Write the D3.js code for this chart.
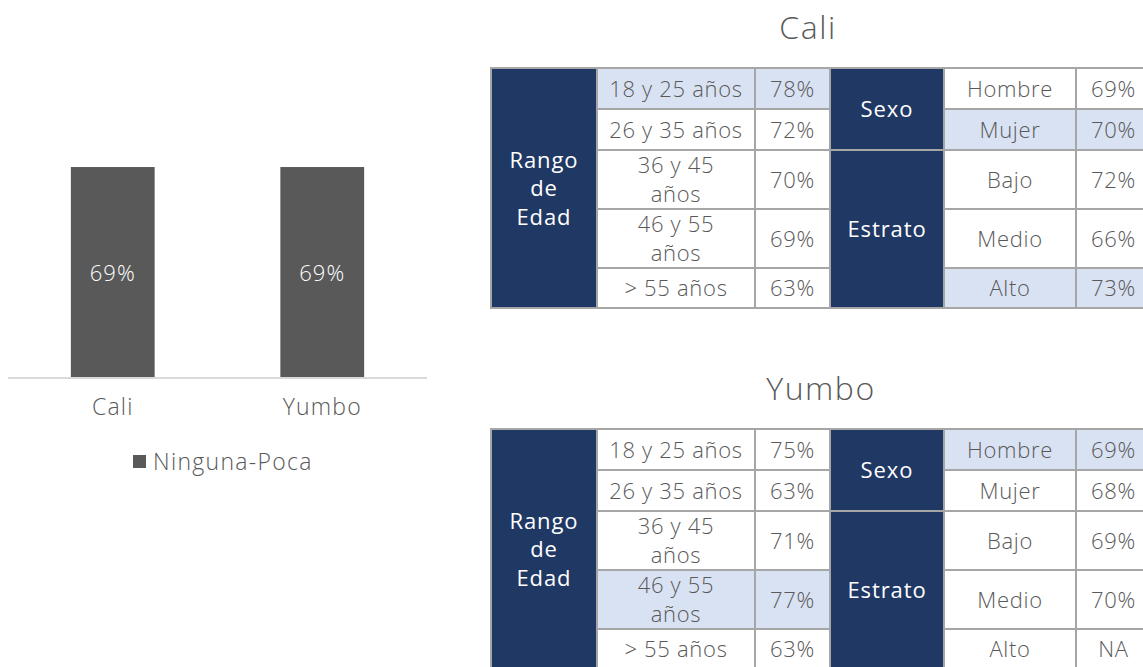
<!DOCTYPE html>
<html>
<head>
<meta charset="utf-8">
<script src="https://cdn.jsdelivr.net/npm/d3@7"></script>
<style>
  html, body { margin: 0; padding: 0; background: #ffffff; }
  svg { display: block; font-family: "Open Sans", Lato, sans-serif; font-weight: 300; letter-spacing: 0.7px; }
</style>
</head>
<body>
<svg id="chart" width="1143" height="667"></svg>
<script>
// Bar chart: share answering "Ninguna-Poca" by city
const barCategories = ["Cali", "Yumbo"];
const barValues = [0.69, 0.69];
const seriesName = "Ninguna-Poca";

// Breakdown tables
const ageGroups = ["18 y 25 años", "26 y 35 años", "36 y 45 años", "46 y 55 años", "> 55 años"];
const sexGroups = ["Hombre", "Mujer"];
const strataGroups = ["Bajo", "Medio", "Alto"];

const caliAge = [0.78, 0.72, 0.70, 0.69, 0.63];
const caliSex = [0.69, 0.70];
const caliStrata = [0.72, 0.66, 0.73];

const yumboAge = [0.75, 0.63, 0.71, 0.77, 0.63];
const yumboSex = [0.69, 0.68];
const yumboStrata = [0.69, 0.70, null];

// Highlighted rows (index within each group)
const caliHighlight = { age: [0], sex: [1], strata: [2] };
const yumboHighlight = { age: [3], sex: [0], strata: [] };

const TEXT = "#595959";
const NAVY = "#1f3864";
const LIGHT = "#d9e2f3";
const GRID = "#a6a6a6";

const svg = d3.select("#chart");
const fmt = d3.format(".0%");

// ---------- Bar chart ----------
const plot = { left: 8, right: 427, base: 378 };
const x = d3.scaleBand()
  .domain(barCategories)
  .range([plot.left, plot.right])
  .paddingInner(0.6)
  .paddingOuter(0.3);
const y = d3.scaleLinear().domain([0, 0.8]).range([plot.base, 133.4]);

const barData = barCategories.map((c, i) => ({ c, v: barValues[i] }));
const bars = svg.append("g");
bars.selectAll("rect")
  .data(barData)
  .join("rect")
  .attr("x", d => x(d.c))
  .attr("y", d => y(d.v))
  .attr("width", x.bandwidth())
  .attr("height", d => y(0) - y(d.v))
  .attr("fill", "#595959");

bars.selectAll("text.val")
  .data(barData)
  .join("text")
  .attr("class", "val")
  .attr("x", d => x(d.c) + x.bandwidth() / 2)
  .attr("y", d => (y(d.v) + y(0)) / 2 - 1)
  .attr("text-anchor", "middle")
  .attr("dominant-baseline", "central")
  .attr("fill", "#ffffff")
  .attr("font-size", 22)
  .attr("letter-spacing", 1)
  .text(d => fmt(d.v));

const xAxis = svg.append("g")
  .attr("transform", `translate(0,${plot.base})`)
  .call(d3.axisBottom(x).tickSize(0).tickPadding(21));
xAxis.select(".domain").attr("stroke", "#d9d9d9").attr("stroke-width", 2)
  .attr("d", `M${plot.left},0H${plot.right}`);
xAxis.selectAll("text").attr("fill", TEXT).attr("font-size", 23)
  .attr("font-family", "'Open Sans', sans-serif")
  .attr("letter-spacing", 1.2);

// Legend
const legend = svg.append("g").attr("transform", "translate(133,455)");
legend.append("rect").attr("width", 13).attr("height", 13).attr("fill", "#595959");
legend.append("text").attr("x", 20).attr("y", 6)
  .attr("dominant-baseline", "central")
  .attr("fill", TEXT).attr("font-size", 23)
  .attr("letter-spacing", 1.3)
  .text(seriesName);

// ---------- Tables ----------
const colEdges = [491, 597, 755, 830, 944, 1076, 1151];
const rowHeights = [41, 41, 59, 59, 40];

function drawTable(top, title, titleX, age, sex, strata, hl) {
  const g = svg.append("g");
  const rowEdges = [top];
  rowHeights.forEach(h => rowEdges.push(rowEdges[rowEdges.length - 1] + h));

  g.append("text")
    .attr("x", titleX).attr("y", top - 42)
    .attr("text-anchor", "middle")
    .attr("dominant-baseline", "central")
    .attr("fill", TEXT).attr("font-size", 32)
    .attr("letter-spacing", 1.5)
    .text(title);

  const cells = [];
  // group headers
  cells.push({ c0: 0, c1: 1, r0: 0, r1: 5, fill: NAVY, lines: ["Rango", "de", "Edad"], head: true });
  cells.push({ c0: 3, c1: 4, r0: 0, r1: 2, fill: NAVY, lines: ["Sexo"], head: true });
  cells.push({ c0: 3, c1: 4, r0: 2, r1: 5, fill: NAVY, lines: ["Estrato"], head: true });

  const pct = v => v == null ? "NA" : fmt(v);

  ageGroups.forEach((lab, i) => {
    const f = hl.age.includes(i) ? LIGHT : "#fff";
    const lines = (i === 2 || i === 3) ? [lab.replace(" años", ""), "años"] : [lab];
    cells.push({ c0: 1, c1: 2, r0: i, r1: i + 1, fill: f, lines });
    cells.push({ c0: 2, c1: 3, r0: i, r1: i + 1, fill: f, lines: [pct(age[i])] });
  });
  sexGroups.forEach((lab, i) => {
    const f = hl.sex.includes(i) ? LIGHT : "#fff";
    cells.push({ c0: 4, c1: 5, r0: i, r1: i + 1, fill: f, lines: [lab] });
    cells.push({ c0: 5, c1: 6, r0: i, r1: i + 1, fill: f, lines: [pct(sex[i])] });
  });
  strataGroups.forEach((lab, i) => {
    const f = hl.strata.includes(i) ? LIGHT : "#fff";
    cells.push({ c0: 4, c1: 5, r0: i + 2, r1: i + 3, fill: f, lines: [lab] });
    cells.push({ c0: 5, c1: 6, r0: i + 2, r1: i + 3, fill: f, lines: [pct(strata[i])] });
  });

  const cg = g.selectAll("g.cell").data(cells).join("g").attr("class", "cell");
  cg.append("rect")
    .attr("x", d => colEdges[d.c0])
    .attr("y", d => rowEdges[d.r0])
    .attr("width", d => colEdges[d.c1] - colEdges[d.c0])
    .attr("height", d => rowEdges[d.r1] - rowEdges[d.r0])
    .attr("fill", d => d.fill)
    .attr("stroke", GRID)
    .attr("stroke-width", 2);

  // One text element per cell; wrapped lines are tspans
  const lh = 28.5;
  cg.each(function (d) {
    const cx = (colEdges[d.c0] + colEdges[d.c1]) / 2;
    const cy = (rowEdges[d.r0] + rowEdges[d.r1]) / 2 - 1;
    const n = d.lines.length;
    const t = d3.select(this).append("text")
      .attr("text-anchor", "middle")
      .attr("dominant-baseline", "central")
      .attr("fill", d.head ? "#ffffff" : TEXT)
      .attr("font-size", 22)
      .attr("font-weight", d.head ? 400 : 300)
      .attr("letter-spacing", d.head ? 0.9 : 0.7);
    t.selectAll("tspan").data(d.lines).join("tspan")
      .attr("x", cx)
      .attr("y", (l, k) => cy + (k - (n - 1) / 2) * lh)
      .attr("dominant-baseline", "central")
      .text(l => l);
  });
}

drawTable(68, "Cali", 808, caliAge, caliSex, caliStrata, caliHighlight);
drawTable(429, "Yumbo", 821, yumboAge, yumboSex, yumboStrata, yumboHighlight);
</script>
</body>
</html>
